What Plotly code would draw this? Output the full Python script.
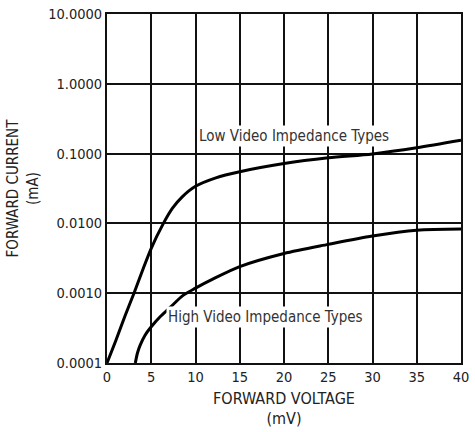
import plotly.graph_objects as go

# Forward voltage (mV) vs forward current (mA)
low_v = [0, 1, 2, 3.05, 4, 5, 6.3, 7.4, 8.5, 10, 12.3, 15, 20, 25, 30, 35, 40]
low_i = [0.0001, 0.00021, 0.00046, 0.001, 0.0021, 0.0044, 0.0096, 0.0165,
         0.024, 0.034, 0.045, 0.055, 0.072, 0.087, 0.099, 0.121, 0.155]

high_v = [3.2, 3.45, 3.75, 4.3, 5, 6, 7.1, 8.6, 10, 12, 15, 20, 25, 30, 35, 40]
high_i = [0.0001, 0.00014, 0.00018, 0.00025, 0.00033, 0.00046, 0.00062,
          0.00093, 0.00118, 0.0016, 0.0024, 0.0037, 0.005, 0.0066, 0.008,
          0.0083]

y_tick_vals = [0.0001, 0.001, 0.01, 0.1, 1, 10]
y_tick_text = ['0.0001', '0.0010', '0.0100', '0.1000', '1.0000', '10.0000']
x_tick_vals = [0, 5, 10, 15, 20, 25, 30, 35, 40]

FONT = 'DejaVu Sans Condensed, Liberation Sans, sans-serif'

fig = go.Figure()

fig.add_trace(go.Scatter(
    x=low_v, y=low_i, mode='lines',
    line=dict(color='black', width=3, shape='spline', smoothing=0.8),
    showlegend=False, hoverinfo='skip'
))
fig.add_trace(go.Scatter(
    x=high_v, y=high_i, mode='lines',
    line=dict(color='black', width=3, shape='spline', smoothing=0.8),
    showlegend=False, hoverinfo='skip'
))

# curve labels sit on a white box that breaks the grid
fig.add_annotation(x=21.1, y=-0.744, text='Low Video Impedance Types',
                   showarrow=False, bgcolor='white',
                   font=dict(family=FONT, size=15, color='#333'))
fig.add_annotation(x=17.9, y=-3.34, text='High Video Impedance Types',
                   showarrow=False, bgcolor='white',
                   font=dict(family=FONT, size=15, color='#333'))

fig.update_layout(
    width=475, height=432,
    margin=dict(l=107, r=12, t=6, b=69),
    paper_bgcolor='white', plot_bgcolor='white',
    font=dict(family=FONT, size=15, color='#222'),
)

fig.update_xaxes(
    range=[0, 40], tickvals=x_tick_vals,
    showgrid=True, gridcolor='#111', gridwidth=2,
    showline=True, linecolor='#111', linewidth=2, mirror=True,
    zeroline=False, ticks='',
    title=dict(text='FORWARD VOLTAGE<br>(mV)', standoff=8,
               font=dict(size=16)),
    tickfont=dict(size=14.5),
)
fig.update_yaxes(
    type='log', range=[-4.0005, 1.0005],
    tickvals=y_tick_vals, ticktext=y_tick_text,
    showgrid=True, gridcolor='#111', gridwidth=2,
    showline=True, linecolor='#111', linewidth=2, mirror=True,
    zeroline=False, ticks='',
    title=dict(text='FORWARD CURRENT<br>(mA)', standoff=6,
               font=dict(size=15)),
    tickfont=dict(size=14.5),
)

# drop the default 8px page margin so the figure sits at the window corner
fig.write_html('out.html', config={'displayModeBar': False},
               post_script="document.body.style.margin='0';")
